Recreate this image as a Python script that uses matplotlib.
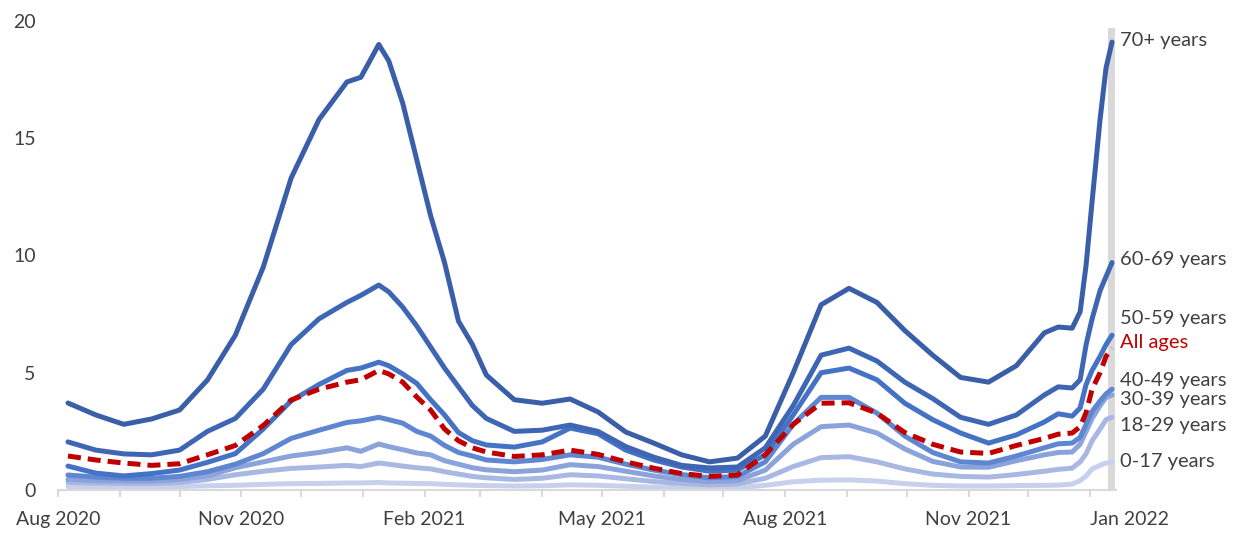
import matplotlib.pyplot as plt
import matplotlib.dates as mdates
import pandas as pd

# dates (roughly every two weeks, denser near peaks)
dates = pd.to_datetime([
    "2020-08-06", "2020-08-20", "2020-09-03", "2020-09-17", "2020-10-01", "2020-10-15",
    "2020-10-29", "2020-11-12", "2020-11-26", "2020-12-10", "2020-12-24", "2020-12-31",
    "2021-01-09", "2021-01-14", "2021-01-21", "2021-01-28", "2021-02-04", "2021-02-11",
    "2021-02-18", "2021-02-25", "2021-03-04", "2021-03-18", "2021-04-01", "2021-04-15",
    "2021-04-29", "2021-05-13", "2021-05-27", "2021-06-10", "2021-06-24", "2021-07-08",
    "2021-07-22", "2021-08-05", "2021-08-19", "2021-09-02", "2021-09-16", "2021-09-30",
    "2021-10-14", "2021-10-28", "2021-11-11", "2021-11-25", "2021-12-09", "2021-12-16",
    "2021-12-23", "2021-12-27", "2021-12-30", "2022-01-02", "2022-01-06", "2022-01-09",
    "2022-01-12",
])

age_70 = [3.71, 3.2, 2.8, 3.03, 3.41, 4.69, 6.6, 9.5, 13.3, 15.8, 17.4, 17.6,
          19.0, 18.3, 16.5, 14.1, 11.7, 9.7, 7.2, 6.2, 4.9, 3.85, 3.7, 3.88,
          3.33, 2.47, 2.0, 1.5, 1.2, 1.36, 2.3, 5.0, 7.9, 8.6, 8.0, 6.8,
          5.75, 4.8, 4.6, 5.3, 6.7, 6.95, 6.9, 7.6, 9.6, 12.3, 15.8, 18.0, 19.1]
age_60 = [2.05, 1.7, 1.54, 1.5, 1.7, 2.5, 3.05, 4.3, 6.2, 7.3, 8.0, 8.3,
          8.74, 8.45, 7.8, 7.0, 6.1, 5.2, 4.4, 3.6, 3.05, 2.5, 2.55, 2.77,
          2.5, 1.85, 1.4, 1.05, 0.94, 0.98, 1.8, 3.6, 5.75, 6.05, 5.5, 4.6,
          3.9, 3.1, 2.8, 3.2, 4.05, 4.4, 4.35, 4.7, 6.2, 7.3, 8.5, 9.1, 9.7]
age_50 = [1.02, 0.72, 0.6, 0.7, 0.85, 1.18, 1.55, 2.6, 3.8, 4.5, 5.1, 5.2,
          5.45, 5.3, 4.95, 4.55, 3.85, 3.2, 2.45, 2.1, 1.92, 1.83, 2.05, 2.64,
          2.4, 1.7, 1.28, 0.98, 0.8, 0.85, 1.5, 3.2, 5.0, 5.2, 4.7, 3.7,
          3.0, 2.43, 2.0, 2.35, 2.9, 3.25, 3.15, 3.5, 4.5, 5.1, 5.7, 6.2, 6.6]
all_ages = [1.45, 1.28, 1.15, 1.05, 1.12, 1.5, 1.9, 2.75, 3.84, 4.3, 4.6, 4.7,
            5.1, 4.95, 4.6, 3.97, 3.41, 2.6, 2.1, 1.8, 1.62, 1.43, 1.5, 1.7,
            1.52, 1.2, 0.93, 0.7, 0.58, 0.64, 1.5, 2.8, 3.7, 3.72, 3.28, 2.45,
            1.95, 1.62, 1.56, 1.9, 2.2, 2.38, 2.43, 2.7, 3.3, 4.3, 5.0, 5.7, 6.05]
age_40 = [0.64, 0.55, 0.5, 0.5, 0.58, 0.78, 1.1, 1.55, 2.2, 2.55, 2.88, 2.95,
          3.1, 3.0, 2.85, 2.5, 2.3, 1.9, 1.6, 1.45, 1.28, 1.2, 1.3, 1.5,
          1.4, 1.1, 0.85, 0.66, 0.52, 0.58, 1.2, 2.8, 3.95, 3.95, 3.28, 2.3,
          1.6, 1.2, 1.15, 1.45, 1.8, 1.97, 2.0, 2.25, 2.8, 3.35, 3.8, 4.1, 4.3]
age_30 = [0.45, 0.4, 0.38, 0.38, 0.45, 0.6, 0.95, 1.2, 1.45, 1.6, 1.8, 1.65,
          1.96, 1.85, 1.72, 1.58, 1.5, 1.25, 1.1, 0.95, 0.86, 0.78, 0.85, 1.08,
          1.0, 0.8, 0.6, 0.45, 0.36, 0.4, 0.85, 1.95, 2.7, 2.77, 2.43, 1.75,
          1.22, 0.98, 0.97, 1.25, 1.5, 1.6, 1.62, 1.95, 2.5, 3.05, 3.6, 3.95, 4.05]
age_18 = [0.32, 0.3, 0.28, 0.28, 0.32, 0.45, 0.65, 0.8, 0.92, 0.98, 1.05, 1.0,
          1.15, 1.1, 1.02, 0.95, 0.9, 0.78, 0.68, 0.58, 0.52, 0.45, 0.5, 0.65,
          0.6, 0.48, 0.36, 0.28, 0.22, 0.26, 0.5, 1.0, 1.38, 1.42, 1.2, 0.9,
          0.68, 0.58, 0.55, 0.66, 0.8, 0.88, 0.93, 1.2, 1.55, 2.1, 2.6, 3.0, 3.1]
age_0 = [0.15, 0.14, 0.13, 0.13, 0.15, 0.18, 0.2, 0.24, 0.27, 0.28, 0.3, 0.3,
         0.32, 0.3, 0.29, 0.28, 0.27, 0.24, 0.22, 0.2, 0.19, 0.17, 0.18, 0.22,
         0.2, 0.16, 0.12, 0.1, 0.09, 0.1, 0.2, 0.35, 0.42, 0.43, 0.38, 0.27,
         0.2, 0.17, 0.17, 0.19, 0.2, 0.21, 0.25, 0.4, 0.6, 0.9, 1.05, 1.15, 1.2]

# drawn lightest first so the darker lines sit on top
series = [
    ("0-17 years", age_0, "#c7d0ec", 0),
    ("18-29 years", age_18, "#a8b8e2", -6),
    ("30-39 years", age_30, "#8aa3db", -3),
    ("40-49 years", age_40, "#5f86d0", 6),
    ("50-59 years", age_50, "#4472c4", 12),
    ("60-69 years", age_60, "#3e66b4", 2),
    ("70+ years", age_70, "#3a5fa8", 1),
]

txt = "#404040"
plt.rcParams['font.family'] = ['Lato', 'DejaVu Sans']

fig = plt.figure(figsize=(12.33, 5.33), dpi=100)
ax = fig.add_axes([58 / 1233, 43 / 533, 1058 / 1233, 469 / 533])

# grey band marking the last few days
ax.axvspan(pd.Timestamp("2022-01-10"), pd.Timestamp("2022-01-13 12:00"),
           ymax=19.7 / 20, color="#d9d9d9", lw=0, zorder=0)

for name, vals, col, dy in series:
    ax.plot(dates, vals, color=col, lw=3.6, solid_capstyle="round",
            solid_joinstyle="round", clip_on=False, zorder=2)
    ax.annotate(name, xy=(dates[-1], vals[-1]), xytext=(6, dy),
                textcoords="offset points", va="center", ha="left",
                fontsize=14.5, color=txt, annotation_clip=False)

ax.plot(dates, all_ages, color="#c00000", lw=3.6, dashes=(2.6, 1.4),
        dash_capstyle="butt", clip_on=False, zorder=3)
ax.annotate("All ages", xy=(dates[-1], all_ages[-1]), xytext=(6, 4),
            textcoords="offset points", va="center", ha="left",
            fontsize=14.5, color="#c00000", annotation_clip=False)

ax.set_xlim(pd.Timestamp("2020-08-01"), pd.Timestamp("2022-01-14"))
ax.set_ylim(0, 20)
ax.set_yticks([0, 5, 10, 15, 20])

major = pd.to_datetime(["2020-08-01", "2020-11-01", "2021-02-01", "2021-05-01",
                        "2021-08-01", "2021-11-01", "2022-01-01"])
ax.set_xticks(major)
ax.set_xticklabels([d.strftime("%b %Y") for d in major])
ax.xaxis.set_minor_locator(mdates.MonthLocator())
ax.get_xticklabels()[-1].set_horizontalalignment("left")

for s in ["top", "right", "left"]:
    ax.spines[s].set_visible(False)
ax.spines["bottom"].set_color("#d9d9d9")
ax.spines["bottom"].set_linewidth(1.5)

ax.tick_params(axis="y", length=0, pad=16, labelsize=14, labelcolor=txt)
ax.tick_params(axis="x", which="both", length=5, width=1.5, color="#d9d9d9",
               pad=10, labelsize=14, labelcolor=txt)

fig.savefig("out.png", dpi=100)
